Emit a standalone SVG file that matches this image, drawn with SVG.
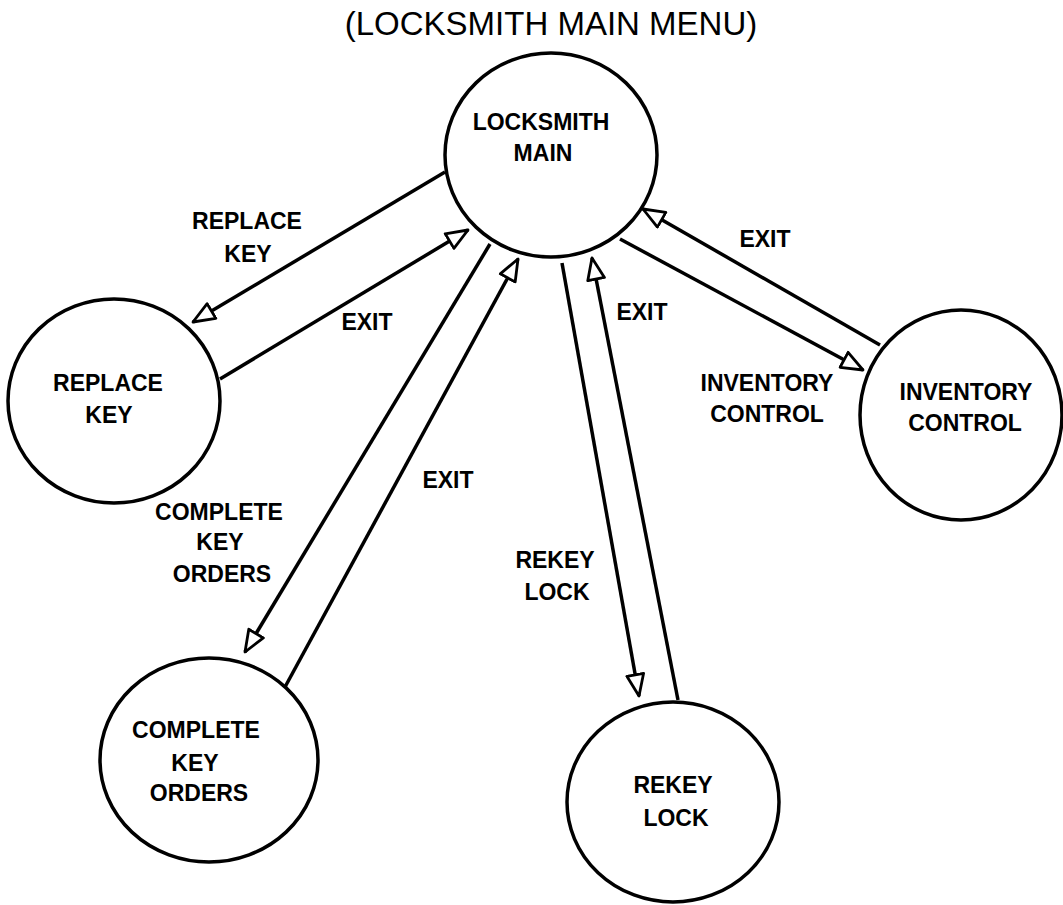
<svg xmlns="http://www.w3.org/2000/svg" width="1063" height="905" viewBox="0 0 1063 905">
  <style>
    .node { fill: #fff; stroke: #000; stroke-width: 3.5; }
    .lbl { font-family: "Liberation Sans", Arial, sans-serif; font-weight: bold; font-size: 23px; fill: #000; text-anchor: middle; }
    .title { font-family: "Liberation Sans", Arial, sans-serif; font-size: 33px; fill: #000; text-anchor: middle; }
    .edge { fill: none; stroke: #000; stroke-width: 3.5; marker-end: url(#openHead); }
  </style>
  <defs>
    <marker id="openHead" viewBox="0 0 25 20" refX="23" refY="10" markerWidth="25" markerHeight="20" markerUnits="userSpaceOnUse" orient="auto">
      <path d="M1.5,1.5 L23,10 L1.5,18.5 Z" fill="#fff" stroke="#000" stroke-width="2.8" stroke-linejoin="round"/>
    </marker>
  </defs>
  <rect width="1063" height="905" fill="#fff"/>

  <text class="title" x="551" y="35">(LOCKSMITH MAIN MENU)</text>

  <!-- transitions between menus -->
  <g id="connectors">
    <path class="edge" d="M445,172 L193,322"/>
    <path class="edge" d="M220,379 L468,230"/>
    <path class="edge" d="M490,244 L245,652"/>
    <path class="edge" d="M285,687 L518,259"/>
    <path class="edge" d="M562,263 L639,696"/>
    <path class="edge" d="M678,700 L592,258"/>
    <path class="edge" d="M620,239 L863,370"/>
    <path class="edge" d="M880,345 L643,209"/>

    <text class="lbl" x="247" y="229">REPLACE</text>
    <text class="lbl" x="248" y="262">KEY</text>
    <text class="lbl" x="367" y="330">EXIT</text>
    <text class="lbl" x="219" y="520">COMPLETE</text>
    <text class="lbl" x="220" y="550">KEY</text>
    <text class="lbl" x="222" y="582">ORDERS</text>
    <text class="lbl" x="448" y="488">EXIT</text>
    <text class="lbl" x="555" y="568">REKEY</text>
    <text class="lbl" x="557" y="600">LOCK</text>
    <text class="lbl" x="642" y="320">EXIT</text>
    <text class="lbl" x="765" y="247">EXIT</text>
    <text class="lbl" x="767" y="391">INVENTORY</text>
    <text class="lbl" x="767" y="422">CONTROL</text>
  </g>

  <g id="locksmith-main">
    <ellipse class="node" cx="551" cy="155" rx="106" ry="102"/>
    <text class="lbl" x="541" y="130">LOCKSMITH</text>
    <text class="lbl" x="543" y="161">MAIN</text>
  </g>

  <g id="replace-key">
    <ellipse class="node" cx="114" cy="401" rx="106" ry="102"/>
    <text class="lbl" x="108" y="391">REPLACE</text>
    <text class="lbl" x="109" y="423">KEY</text>
  </g>

  <g id="complete-key-orders">
    <ellipse class="node" cx="209" cy="760" rx="109" ry="102"/>
    <text class="lbl" x="196" y="738">COMPLETE</text>
    <text class="lbl" x="195" y="771">KEY</text>
    <text class="lbl" x="199" y="801">ORDERS</text>
  </g>

  <g id="rekey-lock">
    <ellipse class="node" cx="673" cy="802" rx="106" ry="100"/>
    <text class="lbl" x="673" y="793">REKEY</text>
    <text class="lbl" x="676" y="826">LOCK</text>
  </g>

  <g id="inventory-control">
    <ellipse class="node" cx="961" cy="415" rx="101" ry="105"/>
    <text class="lbl" x="966" y="400">INVENTORY</text>
    <text class="lbl" x="965" y="431">CONTROL</text>
  </g>
</svg>
